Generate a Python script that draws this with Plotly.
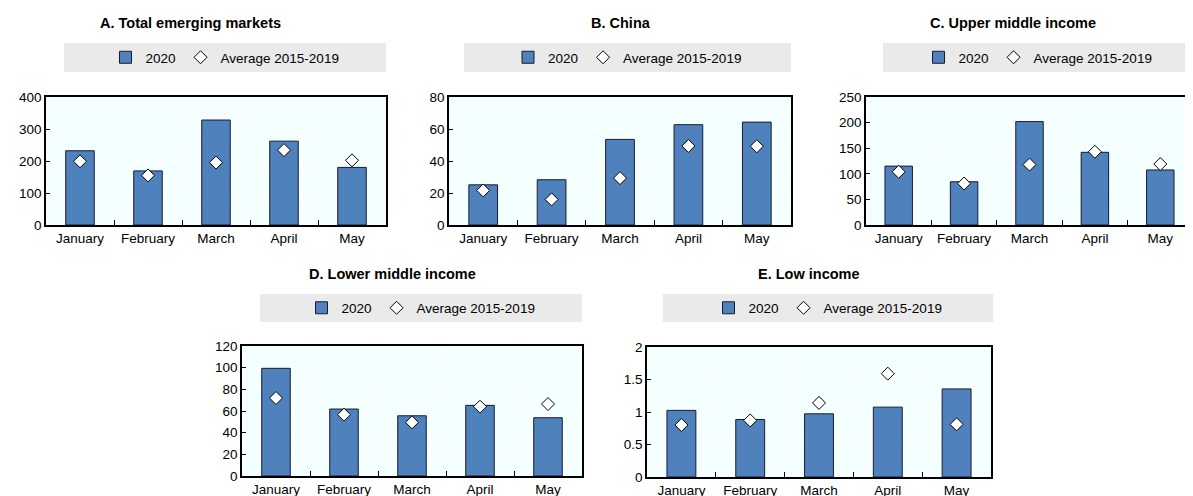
import plotly.graph_objects as go

# the page body has an 8px margin, so the figure is drawn 8px in from the window corner
OFF = 8
W, H = 1193 - OFF, 496 - OFF

months = ["January", "February", "March", "April", "May"]
titles = ["A. Total emerging markets", "B. China", "C. Upper middle income",
          "D. Lower middle income", "E. Low income"]

total_2020 = [232, 169, 328, 262, 180]
total_avg = [199, 155, 195, 234, 202]
china_2020 = [25.1, 28.3, 53.5, 62.7, 64.3]
china_avg = [21.6, 16.0, 29.3, 49.4, 49.2]
upper_2020 = [115, 84.5, 202, 142, 107.5]
upper_avg = [104, 81, 118, 143, 119]
lower_2020 = [99.4, 61.8, 55.6, 65.2, 53.8]
lower_avg = [72, 56.6, 49.5, 64, 66.4]
low_2020 = [1.025, 0.885, 0.972, 1.075, 1.355]
low_avg = [0.80, 0.87, 1.14, 1.59, 0.81]

series_2020 = [total_2020, china_2020, upper_2020, lower_2020, low_2020]
series_avg = [total_avg, china_avg, upper_avg, lower_avg, low_avg]
y_ranges = [[0, 400], [0, 80], [0, 250], [0, 120], [0, 2]]
y_dticks = [100, 20, 50, 20, 0.5]

# layout in window pixels: plot box (x0, x1, y0, y1), legend box, title centre
plot_px = [(46, 386, 97, 225), (449, 791, 97, 225), (866, 1193, 97, 225),
           (242, 582, 346, 476), (647, 991, 347, 477)]
legend_px = [(64, 386, 43, 72), (464, 791, 43, 72), (883, 1193, 43, 72),
             (260, 582, 294, 322), (663, 993, 294, 322)]
title_px = [(190, 23), (621, 23), (1013, 23), (392, 274), (809, 274)]

FONT = "Liberation Sans, Arial, sans-serif"
BLUE = "#4F81BD"
FS = 13.5


def fx(v):
    return min(1, (v - OFF) / W)


def fy(v):
    return max(0, 1 - (v - OFF) / H)


fig = go.Figure()
layout = {}
shapes = []
annotations = []

for i in range(5):
    s = "" if i == 0 else str(i + 1)
    fig.add_trace(go.Bar(x=months, y=series_2020[i], name="2020",
                         marker=dict(color=BLUE, line=dict(color="#1a1a2e", width=1)),
                         xaxis="x" + s, yaxis="y" + s, legend="legend" + s))
    fig.add_trace(go.Scatter(x=months, y=series_avg[i], mode="markers", name="Average 2015-2019",
                             marker=dict(symbol="diamond", size=10, color="white",
                                         line=dict(color="black", width=1)),
                             xaxis="x" + s, yaxis="y" + s, legend="legend" + s))
    x0, x1, y0, y1 = plot_px[i]
    layout["xaxis" + s] = dict(domain=[fx(x0), fx(x1)], anchor="y" + s, automargin=False,
                               showline=True, linecolor="black", linewidth=1.5, mirror=True,
                               ticks="inside", ticklen=5, tickcolor="black", tickson="boundaries",
                               showgrid=True, gridcolor="white", gridwidth=1, tickangle=0,
                               tickfont=dict(size=FS, color="black"), fixedrange=True)
    layout["yaxis" + s] = dict(domain=[fy(y1), fy(y0)], anchor="x" + s, automargin=False,
                               range=y_ranges[i], dtick=y_dticks[i],
                               showline=True, linecolor="black", linewidth=1.5, mirror=True,
                               ticks="inside", ticklen=4, tickcolor="black",
                               showgrid=True, gridcolor="white", gridwidth=1, zeroline=False,
                               tickfont=dict(size=FS, color="black"), fixedrange=True)
    lx0, lx1, ly0, ly1 = legend_px[i]
    shapes.append(dict(type="rect", xref="paper", yref="paper", layer="below",
                       x0=fx(lx0), x1=fx(lx1), y0=fy(ly1), y1=fy(ly0),
                       fillcolor="#EAEAEA", line=dict(width=0)))
    layout["legend" + s] = dict(x=fx((lx0 + lx1) / 2), y=fy((ly0 + ly1) / 2),
                                xanchor="center", yanchor="middle", orientation="h",
                                bgcolor="rgba(0,0,0,0)", font=dict(size=FS, color="black"),
                                itemwidth=30, traceorder="normal")
    tx, ty = title_px[i]
    annotations.append(dict(text="<b>" + titles[i] + "</b>", x=fx(tx), y=fy(ty),
                            xref="paper", yref="paper", showarrow=False,
                            xanchor="center", yanchor="middle",
                            font=dict(size=14.5, color="black")))

fig.update_layout(**layout)
fig.update_layout(width=W, height=H, margin=dict(l=0, r=0, t=0, b=0),
                  paper_bgcolor="white", plot_bgcolor="#F4FFFF",
                  font=dict(family=FONT, color="black"),
                  bargap=0.58, shapes=shapes, annotations=annotations)

fig.write_html("out.html")
